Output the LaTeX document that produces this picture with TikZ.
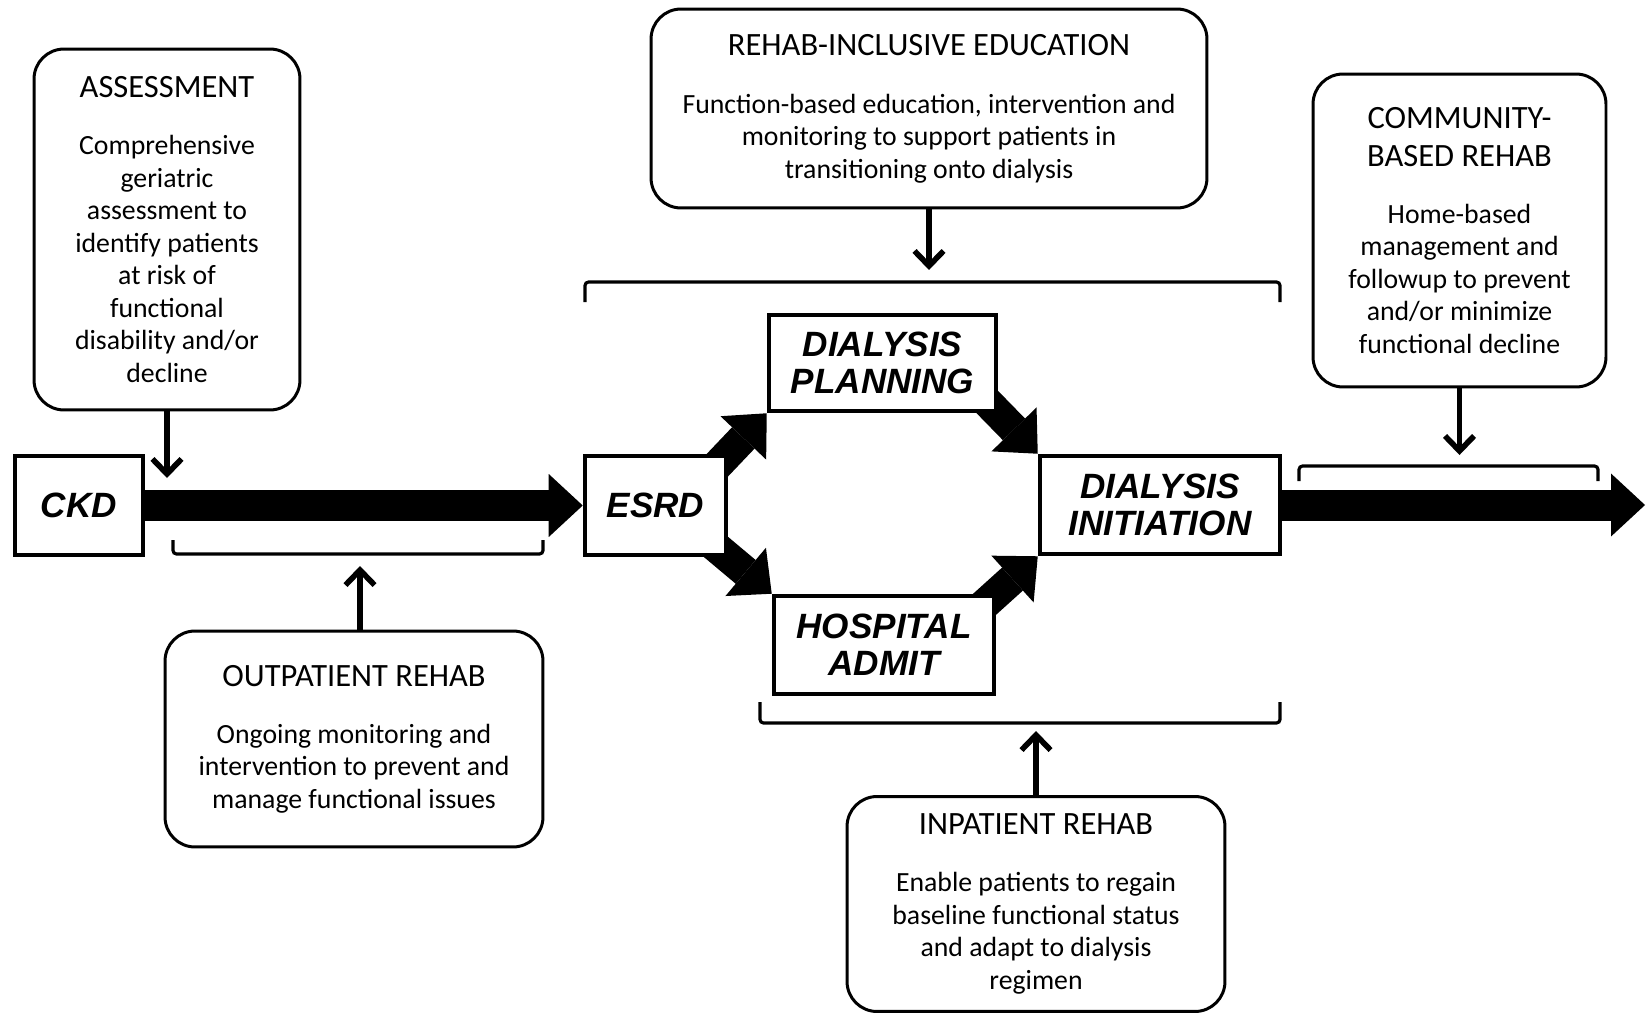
\documentclass[tikz,border=0pt]{standalone}
\usepackage{fontspec}
\setmainfont{Carlito}
\newfontfamily\stepfont{Liberation Sans}
\usetikzlibrary{arrows.meta}
\pgfdeclarelayer{back}
\pgfsetlayers{back,main}
\newcommand{\boxtitle}[1]{{\fontsize{18.5}{22}\selectfont #1}}
\tikzstyle{infobox} = [rectangle, rounded corners=0.6cm, draw=black, line width=1.7pt, fill=white, align=center, inner sep=0pt, font=\fontsize{15.8}{18.5}\selectfont]
\tikzstyle{stepbox} = [rectangle, draw=black, line width=2.6pt, fill=white, align=center, inner sep=0pt, font=\stepfont\bfseries\itshape\fontsize{20}{21}\selectfont]
\tikzstyle{bigarrow} = [line width=0.62cm, -{Triangle[width=1.26cm, length=0.68cm, line width=0pt]}]
\tikzstyle{thinarrow} = [line width=3.2pt, -{Straight Barb[width=0.58cm, length=0.3cm]}]
\tikzstyle{bracket} = [line width=1.8pt, rounded corners=2pt]

\begin{document}
\begin{tikzpicture}[x=0.02cm, y=-0.02cm]

	\useasboundingbox (0,0) rectangle (1648,1013);

	\node (ckd) [stepbox, minimum width=2.56cm, minimum height=1.98cm] at (79,505.5) {CKD};

	\node (esrd) [stepbox, minimum width=2.82cm, minimum height=1.98cm] at (655.5,505.5) {ESRD};

	\node (plan) [stepbox, minimum width=4.54cm, minimum height=1.92cm] at (882.5,363) {DIALYSIS\\PLANNING};

	\node (hosp) [stepbox, minimum width=4.40cm, minimum height=1.96cm] at (884,645) {HOSPITAL\\ADMIT};

	\node (init) [stepbox, minimum width=4.80cm, minimum height=1.96cm] at (1160,505) {DIALYSIS\\INITIATION};

	\node (assess) [infobox, minimum width=5.32cm, minimum height=7.22cm] at (167,229.5) {\boxtitle{ASSESSMENT}\\[14pt]Comprehensive\\geriatric\\assessment to\\identify patients\\at risk of\\functional\\disability and/or\\decline};

	\node (outpat) [infobox, minimum width=7.56cm, minimum height=4.32cm] at (354,739) {\boxtitle{OUTPATIENT REHAB}\\[14pt]Ongoing monitoring and\\intervention to prevent and\\manage functional issues};

	\node (educ) [infobox, minimum width=11.12cm, minimum height=3.98cm, text depth=0.08cm] at (929,108.5) {\boxtitle{REHAB-INCLUSIVE EDUCATION}\\[14pt]Function-based education, intervention and\\monitoring to support patients in\\transitioning onto dialysis};

	\node (comm) [infobox, minimum width=5.86cm, minimum height=6.26cm] at (1459.5,230.5) {\boxtitle{COMMUNITY-}\\[3pt]\boxtitle{BASED REHAB}\\[14pt]Home-based\\management and\\followup to prevent\\and/or minimize\\functional decline};

	\node (inpat) [infobox, minimum width=7.56cm, minimum height=4.30cm] at (1036,904) {\boxtitle{INPATIENT REHAB}\\[14pt]Enable patients to regain\\baseline functional status\\and adapt to dialysis\\regimen};

	\coordinate (endpt) at (1645,505);
	\coordinate (ckdmark) at (167,478);
	\coordinate (opmark) at (360,566);
	\coordinate (edmark) at (929,270);
	\coordinate (commmark) at (1459.5,455);
	\coordinate (inmark) at (1036,731);

	\begin{pgfonlayer}{back}
	\draw [bigarrow] (ckd.east) -- (esrd.west);
	\draw [bigarrow] (init.east) -- (endpt);
	\draw [bigarrow, shorten <=-0.5cm] (esrd.north east) -- (plan.south west);
	\draw [bigarrow, shorten <=-0.5cm] (esrd.south east) -- (hosp.north west);
	\draw [bigarrow, shorten <=-0.5cm] (plan.south east) -- (init.north west);
	\draw [bigarrow, shorten <=-0.5cm] (hosp.north east) -- (init.south west);
	\end{pgfonlayer}

	\draw [bracket] (173,540) |- (543,554) -- (543,540);
	\draw [bracket] (585,302) |- (1280,282) -- (1280,302);
	\draw [bracket] (1299,481) |- (1598,466) -- (1598,481);
	\draw [bracket] (760,702) |- (1280,723) -- (1280,702);

	\draw [thinarrow] (assess) -- (ckdmark);
	\draw [thinarrow] (outpat.north -| opmark) -- (opmark);
	\draw [thinarrow] (educ) -- (edmark);
	\draw [thinarrow] (comm) -- (commmark);
	\draw [thinarrow] (inpat) -- (inmark);

\end{tikzpicture}
\end{document}
